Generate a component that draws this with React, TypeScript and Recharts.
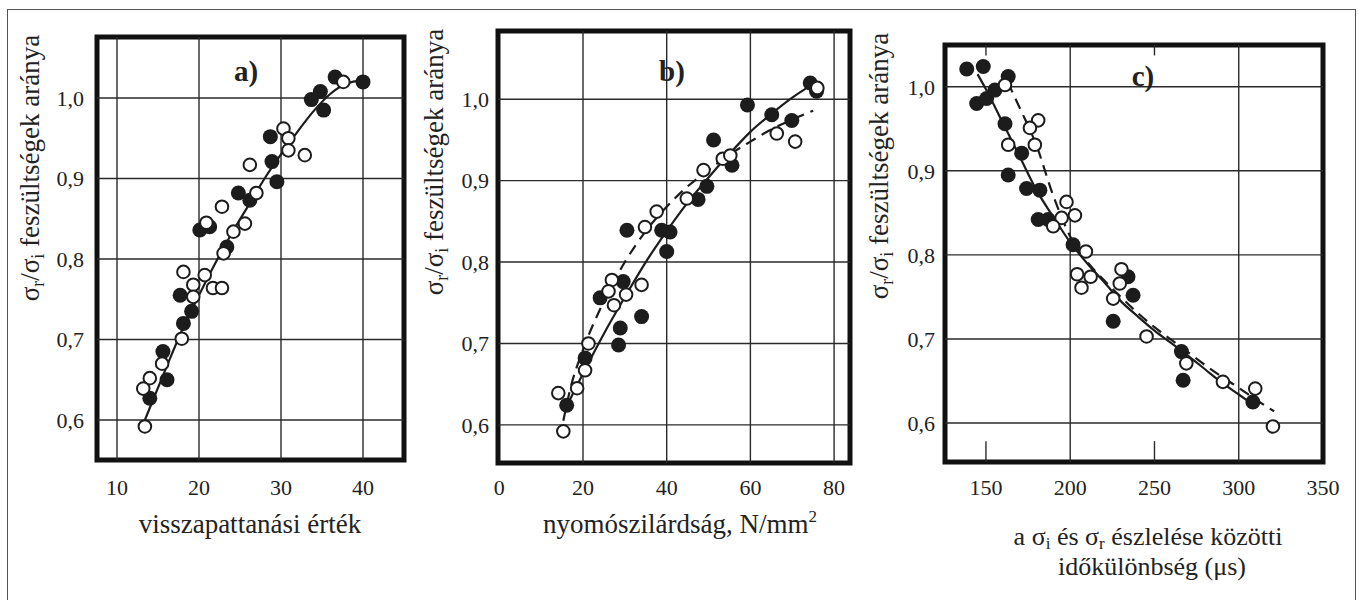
import React from 'react';
import { ComposedChart, Scatter, Line, XAxis, YAxis, ReferenceLine, ReferenceArea } from 'recharts';

type P = { x: number; y: number };
const pts = (a: number[][]): P[] => a.map(([x, y]) => ({ x, y }));

// ---------- panel a) ----------
const aXTicks = [10, 20, 30, 40];
const aYTicks = [0.6, 0.7, 0.8, 0.9, 1.0];
const aXGrid = [10, 20, 30, 40];
const aFilled = pts([
  [36.6, 1.026], [40.0, 1.02], [34.8, 1.008], [33.7, 0.998], [35.2, 0.985], [28.7, 0.952], [28.9, 0.921],
  [29.5, 0.896], [24.8, 0.882], [26.2, 0.873], [20.1, 0.836], [21.3, 0.84], [23.4, 0.815], [17.7, 0.755],
  [19.1, 0.735], [18.1, 0.72], [15.6, 0.685], [16.1, 0.65], [14.0, 0.627],
]);
const aOpen = pts([
  [37.6, 1.02], [30.3, 0.962], [30.9, 0.95], [30.9, 0.935], [32.9, 0.929], [26.2, 0.917], [27.0, 0.882],
  [22.8, 0.865], [25.6, 0.844], [24.2, 0.834], [20.9, 0.845], [23.0, 0.807], [18.1, 0.784], [20.7, 0.78],
  [19.3, 0.768], [21.7, 0.764], [22.8, 0.764], [19.3, 0.753], [17.9, 0.701], [15.5, 0.67], [14.0, 0.652],
  [13.2, 0.639], [13.4, 0.592],
]);
const aSolid = pts([
  [13.4, 0.6], [16, 0.665], [18, 0.713], [20, 0.755], [22, 0.795], [24, 0.832], [26, 0.866], [28, 0.9],
  [30, 0.93], [32, 0.958], [34, 0.984], [36, 1.005], [38, 1.018], [40, 1.022],
]);

// ---------- panel b) ----------
const bXTicks = [0, 20, 40, 60, 80];
const bYTicks = [0.6, 0.7, 0.8, 0.9, 1.0];
const bXGrid = [20, 40, 60, 80];
const bFilled = pts([
  [74.3, 1.02], [75.8, 1.01], [59.3, 0.993], [65.1, 0.981], [69.9, 0.974], [51.2, 0.95], [55.6, 0.919],
  [49.6, 0.893], [47.5, 0.877], [30.5, 0.839], [38.8, 0.839], [40.8, 0.837], [40.0, 0.813], [29.6, 0.776],
  [24.1, 0.756], [34.0, 0.733], [28.9, 0.719], [28.5, 0.698], [20.5, 0.682], [16.1, 0.624],
]);
const bOpen = pts([
  [76.0, 1.014], [66.3, 0.958], [70.7, 0.948], [53.4, 0.927], [55.2, 0.931], [48.8, 0.913], [44.8, 0.878],
  [37.6, 0.862], [34.8, 0.843], [26.9, 0.778], [34.0, 0.772], [26.1, 0.764], [30.3, 0.76], [27.4, 0.747],
  [21.3, 0.7], [20.5, 0.667], [18.6, 0.645], [14.1, 0.639], [15.3, 0.592],
]);
const bSolid = pts([
  [16, 0.622], [20, 0.663], [25, 0.712], [30, 0.757], [35, 0.8], [40, 0.838], [45, 0.873], [50, 0.904],
  [55, 0.933], [60, 0.96], [65, 0.982], [70, 1.002], [76, 1.022],
]);
const bDashed = pts([
  [15.3, 0.605], [17, 0.645], [20, 0.692], [25, 0.752], [30, 0.8], [35, 0.838], [40, 0.868], [45, 0.893],
  [50, 0.913], [55, 0.932], [60, 0.948], [65, 0.963], [70, 0.975], [75, 0.986],
]);

// ---------- panel c) ----------
const cXTicks = [150, 200, 250, 300, 350];
const cYTicks = [0.6, 0.7, 0.8, 0.9, 1.0];
const cXGrid = [200, 300];
const cXMinor = [150, 250];
const cFilled = pts([
  [138.6, 1.021], [148.4, 1.024], [163.2, 1.012], [144.5, 0.98], [150.4, 0.986], [155.3, 0.996], [161.3, 0.956],
  [171.2, 0.921], [163.2, 0.895], [174.1, 0.879], [182.0, 0.877], [181.0, 0.842], [186.9, 0.842], [201.7, 0.812],
  [234.3, 0.774], [237.3, 0.752], [225.5, 0.721], [266.0, 0.685], [267.0, 0.651], [308.4, 0.625],
]);
const cOpen = pts([
  [161.3, 1.002], [181.0, 0.96], [176.1, 0.951], [179.0, 0.931], [163.2, 0.931], [197.8, 0.863], [194.9, 0.844],
  [202.8, 0.847], [189.9, 0.834], [209.3, 0.804], [204.1, 0.777], [212.1, 0.774], [206.7, 0.761], [230.4, 0.783],
  [229.4, 0.766], [225.5, 0.748], [245.3, 0.703], [268.9, 0.671], [290.6, 0.649], [309.8, 0.641], [320.3, 0.596],
]);
const cSolid = pts([
  [145, 1.015], [150, 0.997], [160, 0.957], [170, 0.917], [180, 0.877], [190, 0.845], [200, 0.815], [210, 0.79],
  [220, 0.768], [230, 0.745], [240, 0.727], [250, 0.71], [260, 0.695], [270, 0.68], [280, 0.664], [290, 0.648],
  [300, 0.634], [310, 0.62],
]);
const cDashed = pts([
  [163, 1.005], [170, 0.975], [180, 0.93], [190, 0.87], [200, 0.822], [210, 0.792], [220, 0.77], [230, 0.75],
  [240, 0.731], [250, 0.714], [260, 0.699], [270, 0.684], [280, 0.669], [290, 0.655], [300, 0.642], [310, 0.628],
  [321, 0.614],
]);

const INK = '#1c1c1c';
const FONT =
  "'Times New Roman', Times, Tinos, 'Liberation Serif', 'DejaVu Serif', 'Noto Serif', FreeSerif, 'Nimbus Roman', Georgia, serif";

const FilledDot = (p: any) => <circle cx={p.cx} cy={p.cy} r={7.5} fill={INK} />;
const OpenDot = (p: any) => <circle cx={p.cx} cy={p.cy} r={6.3} fill="#fff" stroke={INK} strokeWidth={2} />;
const fmt = (v: number) => v.toFixed(1).replace('.', ',');

type PanelProps = {
  box: { x: number; y: number; w: number; h: number };
  xDomain: [number, number];
  yDomain: [number, number];
  xTicks: number[];
  yTicks: number[];
  xGrid: number[];
  xMinor?: number[];
  filled: P[];
  open: P[];
  solid: P[];
  dashed?: P[];
  xTickMargin: number;
  yTickMargin: number;
};

function Panel(props: PanelProps) {
  const { box, xDomain, yDomain, xTicks, yTicks, xGrid, xMinor, filled, open, solid, dashed, xTickMargin, yTickMargin } = props;
  const W = box.w + 90;
  const H = box.h + 50;
  const tickStyle = { fontSize: 22, fill: '#222', style: { fontFamily: FONT } };
  const span = yDomain[1] - yDomain[0];
  return (
    <div style={{ position: 'absolute', left: box.x - 70, top: box.y - 10, width: W, height: H, fontFamily: FONT }}>
      <ComposedChart width={W} height={H} margin={{ top: 10, right: 20, bottom: 0, left: 0 }} style={{ fontFamily: FONT }}>
        <XAxis
          type="number"
          dataKey="x"
          domain={xDomain}
          ticks={xTicks}
          allowDataOverflow
          interval={0}
          axisLine={false}
          tickLine={false}
          tickSize={0}
          tickMargin={xTickMargin}
          height={40}
          tick={tickStyle}
        />
        <YAxis
          type="number"
          dataKey="y"
          domain={yDomain}
          ticks={yTicks}
          allowDataOverflow
          interval={0}
          axisLine={false}
          tickLine={false}
          tickSize={0}
          tickMargin={yTickMargin}
          width={70}
          tick={tickStyle}
          tickFormatter={fmt}
        />
        {xGrid.map((v) => (
          <ReferenceLine key={'gx' + v} x={v} stroke="#2a2a2a" strokeWidth={1.4} />
        ))}
        {yTicks.map((v) => (
          <ReferenceLine key={'gy' + v} y={v} stroke="#2a2a2a" strokeWidth={1.4} />
        ))}
        {(xMinor || []).map((v) => (
          <ReferenceLine
            key={'mb' + v}
            segment={[{ x: v, y: yDomain[0] }, { x: v, y: yDomain[0] + span * 0.05 }]}
            stroke="#2a2a2a"
            strokeWidth={1.4}
          />
        ))}
        {(xMinor || []).map((v) => (
          <ReferenceLine
            key={'mt' + v}
            segment={[{ x: v, y: yDomain[1] }, { x: v, y: yDomain[1] - span * 0.025 }]}
            stroke="#2a2a2a"
            strokeWidth={1.4}
          />
        ))}
        {dashed && (
          <Line
            data={dashed}
            dataKey="y"
            type="monotone"
            stroke={INK}
            strokeWidth={2.2}
            strokeDasharray="11 7"
            dot={false}
            activeDot={false}
            isAnimationActive={false}
          />
        )}
        <Line
          data={solid}
          dataKey="y"
          type="monotone"
          stroke={INK}
          strokeWidth={2.2}
          dot={false}
          activeDot={false}
          isAnimationActive={false}
        />
        <Scatter data={filled} dataKey="y" shape={FilledDot} isAnimationActive={false} />
        <Scatter data={open} dataKey="y" shape={OpenDot} isAnimationActive={false} />
        <ReferenceArea
          x1={xDomain[0]}
          x2={xDomain[1]}
          y1={yDomain[0]}
          y2={yDomain[1]}
          fill="none"
          stroke="#111"
          strokeWidth={5}
          ifOverflow="visible"
        />
      </ComposedChart>
    </div>
  );
}

const txt = { fontFamily: FONT };

function YTitle({ x, y }: { x: number; y: number }) {
  return (
    <text x={x} y={y} transform={`rotate(-90 ${x} ${y})`} textAnchor="middle" fontSize={27} fill="#222" style={txt}>
      σ<tspan fontSize={18} dy={5}>r</tspan>
      <tspan dy={-5}>/σ</tspan>
      <tspan fontSize={18} dy={5}>i</tspan>
      <tspan dy={-5}> feszültségek aránya</tspan>
    </text>
  );
}

export default function App() {
  return (
    <div
      style={{
        position: 'absolute',
        left: 0,
        top: 0,
        width: 1359,
        height: 600,
        background: '#fff',
        overflow: 'hidden',
        fontFamily: FONT,
      }}
    >
      <div style={{ position: 'absolute', left: 7, top: 9, width: 1347, height: 620, border: '1.5px solid #555' }} />
      <Panel
        box={{ x: 97, y: 37, w: 307, h: 423 }}
        xDomain={[7.56, 45.0]}
        yDomain={[0.5503, 1.0758]}
        xTicks={aXTicks}
        yTicks={aYTicks}
        xGrid={aXGrid}
        filled={aFilled}
        open={aOpen}
        solid={aSolid}
        xTickMargin={19}
        yTickMargin={13}
      />
      <Panel
        box={{ x: 498, y: 31, w: 352, h: 432 }}
        xDomain={[-0.31, 83.8]}
        yDomain={[0.5531, 1.0839]}
        xTicks={bXTicks}
        yTicks={bYTicks}
        xGrid={bXGrid}
        filled={bFilled}
        open={bOpen}
        solid={bSolid}
        dashed={bDashed}
        xTickMargin={16}
        yTickMargin={9}
      />
      <Panel
        box={{ x: 945, y: 45, w: 378, h: 417 }}
        xDomain={[125.7, 350]}
        yDomain={[0.5537, 1.0496]}
        xTicks={cXTicks}
        yTicks={cYTicks}
        xGrid={cXGrid}
        xMinor={cXMinor}
        filled={cFilled}
        open={cOpen}
        solid={cSolid}
        dashed={cDashed}
        xTickMargin={17}
        yTickMargin={10}
      />
      <svg
        width={1359}
        height={600}
        style={{ position: 'absolute', left: 0, top: 0, pointerEvents: 'none', fontFamily: FONT }}
      >
        <text x={246} y={81} textAnchor="middle" fontSize={29} fontWeight="bold" fill="#222" style={txt}>a)</text>
        <text x={672} y={81} textAnchor="middle" fontSize={29} fontWeight="bold" fill="#222" style={txt}>b)</text>
        <text x={1143} y={86} textAnchor="middle" fontSize={29} fontWeight="bold" fill="#222" style={txt}>c)</text>

        <YTitle x={39} y={168} />
        <YTitle x={443} y={162} />
        <YTitle x={888} y={166} />

        <text x={250} y={533} textAnchor="middle" fontSize={27} fill="#222" style={txt}>visszapattanási érték</text>
        <text x={680} y={533} textAnchor="middle" fontSize={27} fill="#222" style={txt}>
          nyomószilárdság, N/mm<tspan fontSize={17} dy={-11}>2</tspan>
        </text>
        <text x={1148} y={545} textAnchor="middle" fontSize={26} fill="#222" style={txt}>
          a σ<tspan fontSize={17} dy={4}>i</tspan>
          <tspan dy={-4}> és σ</tspan>
          <tspan fontSize={17} dy={4}>r</tspan>
          <tspan dy={-4}> észlelése közötti</tspan>
        </text>
        <text x={1152} y={575} textAnchor="middle" fontSize={26} fill="#222" style={txt}>időkülönbség (μs)</text>
      </svg>
    </div>
  );
}
